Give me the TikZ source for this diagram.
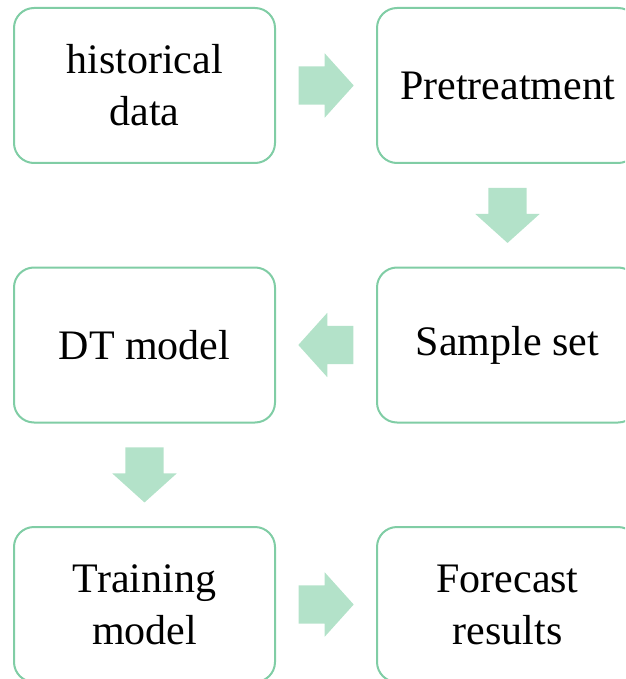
\documentclass[tikz,border=0pt]{standalone}
\usepackage{fontspec}
\setmainfont{Liberation Serif}
\usetikzlibrary{shapes.arrows,calc}
\definecolor{boxline}{RGB}{128,205,165}
\definecolor{arrowfill}{RGB}{179,226,201}
\begin{document}
\begin{tikzpicture}[x=1pt,y=-1pt,
  stepbox/.style={draw=boxline, line width=2pt, rounded corners=20pt,
    minimum width=261pt, minimum height=155pt, inner sep=0pt,
    align=center, text=black, font=\fontsize{42}{52}\selectfont},
  flow/.style={single arrow, fill=arrowfill, draw=none, anchor=tail,
    inner xsep=0pt, inner ysep=19pt, text height=0pt, text depth=0pt,
    minimum height=55pt, single arrow head extend=13pt,
    single arrow tip angle=96}]
  \useasboundingbox (0,0) rectangle (625,679);
  \clip (0,0) rectangle (625,679);

  % process steps
  \node[stepbox] (hist)  at (144.5,85.5) {historical\\data};
  \node[stepbox] (pre)   at (507.5,85.5) {Pretreatment};
  \node[stepbox] (dt)    at (144.5,345)  {DT model};
  \node[stepbox] (samp)  at (507.5,345)  {Sample set};
  \node[stepbox] (train) at (144.5,604.5) {Training\\model};
  \node[stepbox] (fore)  at (507.5,604.5) {Forecast\\results};

  % block arrows (55pt long) centred in the gaps between consecutive steps
  \node[flow] (f1) at ($(hist.east)!0.5!(pre.west)+(-27.5,0)$) {};
  \node[flow, rotate=-90] (f2) at ($(pre.south)!0.5!(samp.north)+(0,-27.5)$) {};
  \node[flow, rotate=180] (f3) at ($(samp.west)!0.5!(dt.east)+(27.5,0)$) {};
  \node[flow, rotate=-90] (f4) at ($(dt.south)!0.5!(train.north)+(0,-27.5)$) {};
  \node[flow] (f5) at ($(train.east)!0.5!(fore.west)+(-27.5,0)$) {};
\end{tikzpicture}
\end{document}
